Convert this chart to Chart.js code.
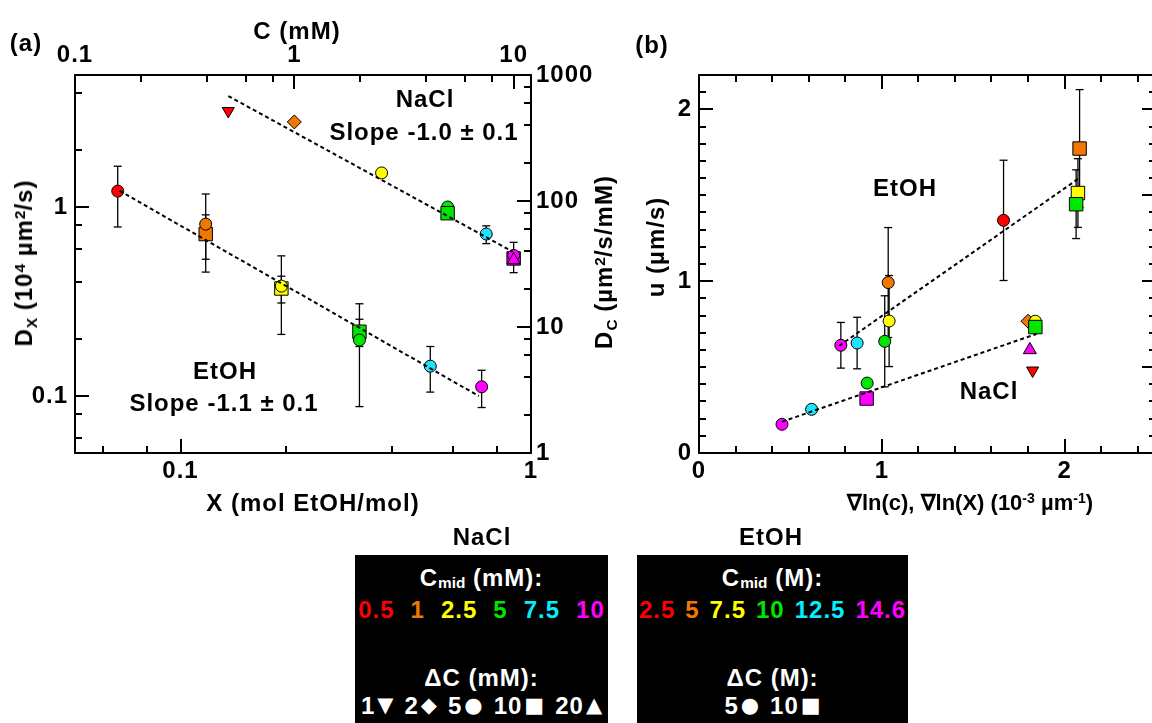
<!DOCTYPE html>
<html><head><meta charset="utf-8">
<script src="https://cdn.jsdelivr.net/npm/chart.js@4.4.1/dist/chart.umd.min.js"></script>
<style>
html,body{margin:0;padding:0;background:#fff;overflow:hidden}
#wrap{position:relative;width:1152px;height:723px;overflow:hidden;background:#fff}
canvas{position:absolute;top:0}
.t{position:absolute;font:bold 24px "Liberation Sans",Arial,sans-serif;letter-spacing:1px;line-height:1;white-space:nowrap;color:#000;transform:translate(-50%,-50%)}
.t.r{transform:translate(-50%,-50%) rotate(-90deg)}
.sub{position:relative;top:0.3em;font-size:0.64em;letter-spacing:0}
.sup{position:relative;top:-0.48em;font-size:0.64em;letter-spacing:0}
.box{position:absolute;background:#000;top:555px;height:200px}
.row{position:absolute;left:0;right:0;height:24px;display:flex;justify-content:center;align-items:center;font:bold 24px "Liberation Sans",Arial,sans-serif;letter-spacing:1px;line-height:1;color:#fff;white-space:nowrap}
.sym{position:relative;top:-2px;font-family:"DejaVu Sans",sans-serif;font-size:21px;font-weight:normal;margin-left:2px;letter-spacing:0}
</style></head>
<body>
<div id="wrap">
 <canvas id="ca" width="600" height="540" style="left:0;width:600px;height:540px"></canvas>
 <canvas id="cb" width="560" height="540" style="left:620px;width:560px;height:540px"></canvas>
 <div class="t" style="left:26px;top:43px">(a)</div>
 <div class="t" style="left:297px;top:31px">C (mM)</div>
 <div class="t" style="left:425px;top:99px">NaCl</div>
 <div class="t" style="left:424px;top:132px">Slope -1.0 ± 0.1</div>
 <div class="t" style="left:225px;top:371px">EtOH</div>
 <div class="t" style="left:224px;top:403px">Slope -1.1 ± 0.1</div>
 <div class="t" style="left:313px;top:503px">X (mol EtOH/mol)</div>
 <div class="t r" style="left:24px;top:263px">D<span class="sub">X</span> (10<span class="sup">4</span> µm<span class="sup">2</span>/s)</div>
 <div class="t r" style="left:604px;top:262px">D<span class="sub">C</span> (µm<span class="sup">2</span>/s/mM)</div>
 <div class="t r" style="left:656px;top:247px">u (µm/s)</div>
 <div class="t" style="left:652px;top:45px">(b)</div>
 <div class="t" style="left:905px;top:188px">EtOH</div>
 <div class="t" style="left:989px;top:391px">NaCl</div>
 <div class="t" style="left:970px;top:503px;font-size:22px;letter-spacing:0">∇ln(c), ∇ln(X) (10<span class="sup">-3</span> µm<span class="sup">-1</span>)</div>
 <div class="t" style="left:482px;top:537px">NaCl</div>
 <div class="t" style="left:771px;top:537px">EtOH</div>
 <div class="box" id="boxN" style="left:355px;width:253px"></div>
 <div class="box" id="boxE" style="left:637px;width:271px"></div>
</div>
<script>
// ================= DATA =================
// EtOH (bottom/left axes of panel a, circles = dC 5 M, squares = dC 10 M)
const etohCmidLabels = ['2.5', '5', '7.5', '10', '12.5', '14.6'];
const etohDeltaCLabels = ['5', '10'];
const etohX = [0.0662, 0.118, 0.194, 0.324, 0.516, 0.723];
const etohDxCircle = [1.215, 0.813, 0.382, 0.198, 0.144, 0.112];
const etohDxCircleErr = [0.43, 0.36, 0.17, 0.11, 0.039, 0.025];
const etohDxSquare = [null, 0.72, 0.371, 0.219, null, null];
const etohDxSquareErr = [null, 0.19, 0.06, 0.036, null, null];
// EtOH panel b
const etohGradCircle = [1.666, 1.035, 1.04, 1.016, 0.865, 0.776];
const etohUCircle = [1.354, 0.992, 0.768, 0.65, 0.64, 0.627];
const etohUCircleErr = [0.35, 0.32, 0.265, 0.265, 0.15, 0.133];
const etohGradSquare = [null, 2.082, 2.073, 2.063, null, null];
const etohUSquare = [null, 1.772, 1.513, 1.448, null, null];
const etohUSquareErr = [null, 0.343, 0.2, 0.2, null, null];

// NaCl (top/right axes of panel a)
const naclCmidLevels = [0.5, 1, 2.5, 5, 7.5, 10];
const naclCmidLabels = ['0.5', '1', '2.5', '5', '7.5', '10'];
const naclDeltaCLevels = [1, 2, 5, 10, 20];
const naclDeltaCLabels = ['1', '2', '5', '10', '20'];
const naclCmid = [0.5, 1, 2.5, 5, 5, 7.5, 10, 10, 10];
const naclDeltaC = [1, 2, 5, 5, 10, 5, 10, 5, 20];
const naclDc = [518, 424, 167, 89.6, 80, 54.7, 35, 37, 34];
const naclDcErr = [null, null, null, null, null, 8.8, null, 10, null];
const naclGrad = [1.825, 1.80, 1.84, 0.92, 1.84, 0.616, 0.917, 0.454, 1.81];
const naclU = [0.48, 0.767, 0.767, 0.407, 0.733, 0.254, 0.317, 0.167, 0.60];

// fitted lines (end points)
const etohFitX = [0.067, 0.71];
const etohFitDx = [1.22, 0.1];
const naclFitC = [0.5, 9.9];
const naclFitDc = [681, 39.6];
const etohFitGrad = [0.767, 2.079];
const etohFitU = [0.624, 1.599];
const naclFitGrad = [0.454, 1.846];
const naclFitU = [0.182, 0.693];

// axis ticks
const aXMajor = [0.1, 1];            const aXLabels = ['0.1', '1'];
const aXMinor = [0.06, 0.08, 0.2, 0.4, 0.6, 0.8];
const aCMajor = [0.1, 1, 10];        const aCLabels = ['0.1', '1', '10'];
const aCMinor = [0.2, 0.4, 0.6, 0.8, 2, 4, 6, 8];
const aDxMajor = [0.1, 1];           const aDxLabels = ['0.1', '1'];
const aDxMinor = [0.06, 0.08, 0.2, 0.4, 0.6, 0.8, 2, 4];
const aDcMajor = [1, 10, 100, 1000]; const aDcLabels = ['1', '10', '100', '1000'];
const aDcMinor = [2, 4, 6, 8, 20, 40, 60, 80, 200, 400, 600, 800];
const bXMajor = [0, 1, 2];           const bXLabels = ['0', '1', '2'];
const bXMinor = [0.2, 0.4, 0.6, 0.8, 1.2, 1.4, 1.6, 1.8, 2.2, 2.4];
const bUMajor = [0, 1, 2];           const bULabels = ['0', '1', '2'];
const bUMinor = [0.1, 0.2, 0.3, 0.4, 0.5, 0.6, 0.7, 0.8, 0.9, 1.1, 1.2, 1.3, 1.4, 1.5, 1.6, 1.7, 1.8, 1.9, 2.1];
const bRMajor = [0.5, 1, 1.5, 2];
const bRMinor = [0.1, 0.2, 0.3, 0.4, 0.6, 0.7, 0.8, 0.9, 1.1, 1.2, 1.3, 1.4, 1.6, 1.7, 1.8, 1.9, 2.1];

// ================= STYLE =================
const palette = ['#ff0000', '#f07800', '#ffff00', '#00e600', '#1ee4ff', '#ff00ff'];
const legendPalette = ['#ff0000', '#f07800', '#ffff00', '#00e600', '#00f0ff', '#ff00ff'];
const shapeForDelta = {1: ['triangle', 180, 7], 2: ['rectRot', 0, 7], 5: ['circle', 0, 6], 10: ['rect', 0, 9.5], 20: ['triangle', 0, 7.5]};
const naclSymbols = ['▼', '◆', '●', '■', '▲'];
const etohSymbols = ['●', '■'];
const chartFont = {family: '"Liberation Sans", Arial, Helvetica, sans-serif', size: 24, weight: 'bold', lineHeight: 1};

function mkAxis(o) {
  return {
    type: o.type, position: o.position, min: o.min, max: o.max, weight: o.weight || 0,
    offset: false, bounds: 'data', display: true,
    afterBuildTicks: s => { s.ticks = o.ticks.map(v => ({value: v})); },
    afterFit: s => { if (s.isHorizontal()) s.height = o.size; else s.width = o.size; },
    grid: {display: true, drawOnChartArea: false, drawTicks: true, tickLength: -o.len, tickWidth: 2, tickColor: '#000', lineWidth: 2, color: '#000'},
    border: {display: !!o.border, color: '#000', width: 2},
    ticks: {autoSkip: false, maxRotation: 0, minRotation: 0, padding: o.pad || 0, color: '#000', font: chartFont,
      callback: (v, i) => (o.labels ? o.labels[i] : '')},
    title: {display: false}
  };
}

function errBars(xs, ys, es, xAxisID, yAxisID) {
  const out = [];
  xs.forEach((x, i) => {
    if (x == null || ys[i] == null || es[i] == null) return;
    out.push({type: 'scatter', showLine: true, data: [{x: x, y: ys[i] - es[i]}, {x: x, y: ys[i] + es[i]}],
      borderColor: '#000', borderWidth: 1.3, pointStyle: 'line', pointRadius: 4, pointHoverRadius: 4,
      pointBorderColor: '#000', pointBorderWidth: 1.3, xAxisID, yAxisID, order: 10, clip: false});
  });
  return out;
}

function markers(xs, ys, colorsIdx, style, xAxisID, yAxisID, order) {
  return {type: 'scatter', data: xs.map((x, i) => ({x: x, y: ys[i]})),
    pointStyle: style[0], pointRotation: style[1], pointRadius: style[2], pointHoverRadius: style[2],
    pointBackgroundColor: colorsIdx.map(c => palette[c]), pointBorderColor: '#000', pointBorderWidth: 1,
    xAxisID, yAxisID, order: order, clip: false};
}

function naclMarkers(xs, ys, xAxisID, yAxisID) {
  return {type: 'scatter', data: xs.map((x, i) => ({x: x, y: ys[i]})),
    pointStyle: naclDeltaC.map(d => shapeForDelta[d][0]),
    pointRotation: naclDeltaC.map(d => shapeForDelta[d][1]),
    pointRadius: naclDeltaC.map(d => shapeForDelta[d][2]),
    pointHoverRadius: naclDeltaC.map(d => shapeForDelta[d][2]),
    pointBackgroundColor: naclCmid.map(c => palette[naclCmidLevels.indexOf(c)]),
    pointBorderColor: '#000', pointBorderWidth: 1, xAxisID, yAxisID, order: 1, clip: false};
}

function fitLine(xs, ys, xAxisID, yAxisID) {
  return {type: 'scatter', showLine: true, data: xs.map((x, i) => ({x: x, y: ys[i]})),
    borderColor: '#000', borderWidth: 2, borderDash: [4, 3], pointRadius: 0, pointHoverRadius: 0,
    xAxisID, yAxisID, order: 0};
}

const spacingPlugin = {id: 'spacing', beforeDraw(c) { try { c.ctx.letterSpacing = '1px'; } catch (e) {} }};
const idx6 = [0, 1, 2, 3, 4, 5];
const baseOpts = {responsive: false, animation: false, events: [], layout: {padding: 0},
  plugins: {legend: {display: false}, tooltip: {enabled: false}, title: {display: false}}};

// ================= PANEL (a) =================
new Chart(document.getElementById('ca'), {
  type: 'scatter',
  data: {datasets: [
    fitLine(etohFitX, etohFitDx, 'x', 'y'),
    fitLine(naclFitC, naclFitDc, 'x2', 'y2'),
    markers(etohX, etohDxCircle, idx6, shapeForDelta[5], 'x', 'y', 1),
    markers(etohX, etohDxSquare, idx6, shapeForDelta[10], 'x', 'y', 2),
    naclMarkers(naclCmid, naclDc, 'x2', 'y2'),
    ...errBars(etohX, etohDxCircle, etohDxCircleErr, 'x', 'y'),
    ...errBars(etohX, etohDxSquare, etohDxSquareErr, 'x', 'y'),
    ...errBars(naclCmid, naclDc, naclDcErr, 'x2', 'y2')
  ]},
  options: Object.assign({}, baseOpts, {scales: {
    x: mkAxis({type: 'logarithmic', position: 'bottom', min: 0.05, max: 1, ticks: aXMajor, labels: aXLabels, len: 14, size: 87, pad: 20, border: true}),
    xm: mkAxis({type: 'logarithmic', position: 'bottom', min: 0.05, max: 1, ticks: aXMinor, len: 7, size: 0, weight: -1}),
    x2: mkAxis({type: 'logarithmic', position: 'top', min: 0.1, max: 12, ticks: aCMajor, labels: aCLabels, len: 14, size: 75, pad: 22, border: true}),
    x2m: mkAxis({type: 'logarithmic', position: 'top', min: 0.1, max: 12, ticks: aCMinor, len: 7, size: 0, weight: -1}),
    y: mkAxis({type: 'logarithmic', position: 'left', min: 0.05, max: 5, ticks: aDxMajor, labels: aDxLabels, len: 14, size: 75, pad: 21, border: true}),
    ym: mkAxis({type: 'logarithmic', position: 'left', min: 0.05, max: 5, ticks: aDxMinor, len: 7, size: 0, weight: -1}),
    y2: mkAxis({type: 'logarithmic', position: 'right', min: 1, max: 1000, ticks: aDcMajor, labels: aDcLabels, len: 14, size: 69, pad: 19, border: true}),
    y2m: mkAxis({type: 'logarithmic', position: 'right', min: 1, max: 1000, ticks: aDcMinor, len: 7, size: 0, weight: -1})
  }}),
  plugins: [spacingPlugin]
});

// ================= PANEL (b) =================
new Chart(document.getElementById('cb'), {
  type: 'scatter',
  data: {datasets: [
    fitLine(etohFitGrad, etohFitU, 'x', 'y'),
    fitLine(naclFitGrad, naclFitU, 'x', 'y'),
    markers(etohGradCircle, etohUCircle, idx6, shapeForDelta[5], 'x', 'y', 1),
    markers(etohGradSquare, etohUSquare, idx6, shapeForDelta[10], 'x', 'y', 2),
    naclMarkers(naclGrad, naclU, 'x', 'y'),
    ...errBars(etohGradCircle, etohUCircle, etohUCircleErr, 'x', 'y'),
    ...errBars(etohGradSquare, etohUSquare, etohUSquareErr, 'x', 'y')
  ]},
  options: Object.assign({}, baseOpts, {scales: {
    x: mkAxis({type: 'linear', position: 'bottom', min: 0, max: 2.5, ticks: bXMajor, labels: bXLabels, len: 14, size: 87, pad: 20, border: true}),
    xm: mkAxis({type: 'linear', position: 'bottom', min: 0, max: 2.5, ticks: bXMinor, len: 7, size: 0, weight: -1}),
    x2: mkAxis({type: 'linear', position: 'top', min: 0, max: 2.5, ticks: bXMajor, len: 14, size: 75, border: true}),
    x2m: mkAxis({type: 'linear', position: 'top', min: 0, max: 2.5, ticks: bXMinor, len: 7, size: 0, weight: -1}),
    y: mkAxis({type: 'linear', position: 'left', min: 0, max: 2.2, ticks: bUMajor, labels: bULabels, len: 14, size: 79, pad: 21, border: true}),
    ym: mkAxis({type: 'linear', position: 'left', min: 0, max: 2.2, ticks: bUMinor, len: 7, size: 0, weight: -1}),
    y2: mkAxis({type: 'linear', position: 'right', min: 0, max: 2.2, ticks: bRMajor, len: 14, size: 24, border: true}),
    y2m: mkAxis({type: 'linear', position: 'right', min: 0, max: 2.2, ticks: bRMinor, len: 7, size: 0, weight: -1})
  }}),
  plugins: [spacingPlugin]
});

// ================= LEGEND BOXES =================
function row(box, top, gap) {
  const d = document.createElement('div');
  d.className = 'row'; d.style.top = top + 'px'; d.style.gap = gap + 'px';
  box.appendChild(d); return d;
}
function buildLegend(boxId, unit, cmidLabels, deltaLabels, symbols, numGap) {
  const box = document.getElementById(boxId);
  row(box, 11, 0).innerHTML = 'C<span class="sub">mid</span>&nbsp;(' + unit + '):';
  const r2 = row(box, 43, numGap);
  cmidLabels.forEach((l, i) => { const s = document.createElement('span'); s.textContent = l; s.style.color = legendPalette[i]; r2.appendChild(s); });
  row(box, 111, 0).textContent = 'ΔC (' + unit + '):';
  const r4 = row(box, 139, 11);
  deltaLabels.forEach((l, i) => {
    const g = document.createElement('span');
    g.innerHTML = l + '<span class="sym">' + symbols[i] + '</span>';
    r4.appendChild(g);
  });
}
buildLegend('boxN', 'mM', naclCmidLabels, naclDeltaCLabels, naclSymbols, 16);
buildLegend('boxE', 'M', etohCmidLabels, etohDeltaCLabels, etohSymbols, 10);
</script>
</body></html>
